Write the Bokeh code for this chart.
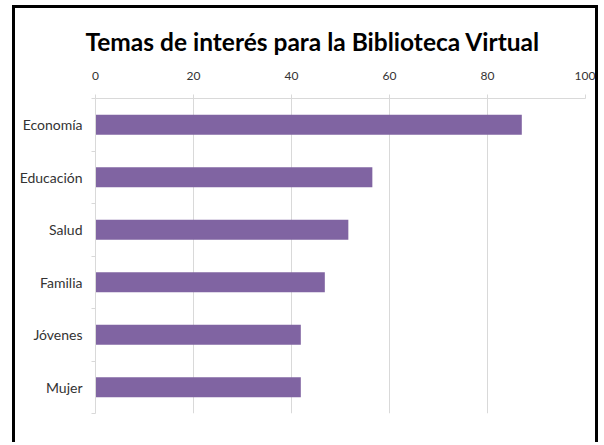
from bokeh.plotting import figure
from bokeh.models import Range1d, FixedTicker
from bokeh.embed import file_html
from bokeh.resources import INLINE

# Data
categories = ["Economía", "Educación", "Salud", "Familia", "Jóvenes", "Mujer"]
values = [87.0, 56.5, 51.6, 46.8, 41.9, 41.9]
x_ticks = [0, 20, 40, 60, 80, 100]

positions = list(range(len(categories)))
boundaries = [i - 0.5 for i in range(len(categories) + 1)]

p = figure(
    width=586, height=437,
    x_range=Range1d(0, 100),
    y_range=Range1d(len(categories) - 0.5, -0.5),
    x_axis_location="above",
    title="Temas de interés para la Biblioteca Virtual",
    output_backend="svg", toolbar_location=None,
    min_border_left=80, min_border_right=16,
    min_border_top=90, min_border_bottom=32,
)
p.styles = {"border-left": "3px solid black", "border-top": "3px solid black",
            "border-right": "3px solid black", "border-bottom": "none",
            "position": "relative", "left": "12px", "top": "5px"}
p.outline_line_color = None
p.background_fill_color = "white"
p.border_fill_color = "white"

p.hbar(y=positions, right=values, left=0, height=0.38,
       fill_color="#8064A2", line_color=None)

# Title
p.title.text_font = "Lato"
p.title.text_font_style = "bold"
p.title.text_font_size = "24.5px"
p.title.text_color = "#000000"
p.title.align = "left"
p.title.offset = -10
p.title.standoff = 26

# X axis (top)
xt = FixedTicker(ticks=x_ticks)
p.xaxis.ticker = xt
p.xgrid.ticker = xt
p.xgrid.grid_line_color = "#d9d9d9"
p.ygrid.visible = False
p.xaxis.axis_line_color = "#d9d9d9"
p.xaxis.major_tick_line_color = "#d9d9d9"
p.xaxis.major_tick_out = 4
p.xaxis.major_tick_in = 0
p.xaxis.minor_tick_line_color = None
p.xaxis.major_label_text_font = "Lato"
p.xaxis.major_label_text_font_size = "12px"
p.xaxis.major_label_text_color = "#333333"
p.xaxis.major_label_standoff = 15

# Y axis (categories)
p.yaxis.ticker = FixedTicker(ticks=positions, minor_ticks=boundaries)
p.yaxis.major_label_overrides = {i: c for i, c in zip(positions, categories)}
p.yaxis.axis_line_color = "#d9d9d9"
p.yaxis.major_tick_line_color = None
p.yaxis.major_tick_out = 0
p.yaxis.major_tick_in = 0
p.yaxis.minor_tick_line_color = "#d9d9d9"
p.yaxis.minor_tick_out = 4
p.yaxis.minor_tick_in = 0
p.yaxis.major_label_text_font = "Lato"
p.yaxis.major_label_text_font_size = "14px"
p.yaxis.major_label_text_color = "#333333"
p.yaxis.major_label_standoff = 9

open("out.html", "w").write(file_html(p, INLINE))
